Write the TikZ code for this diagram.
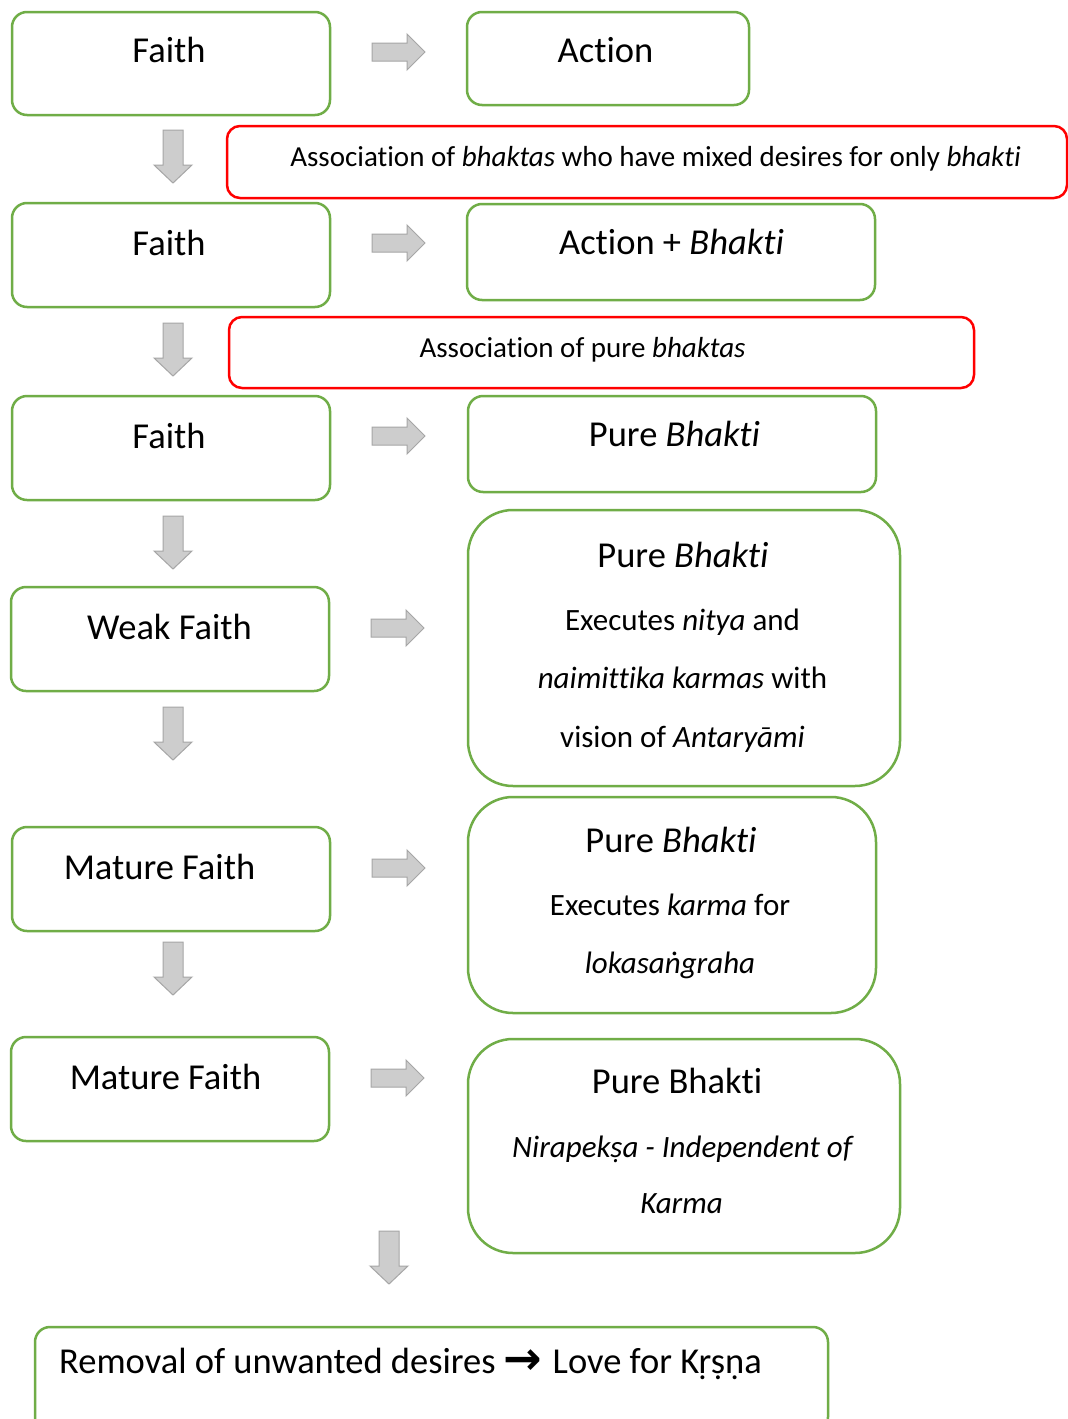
\documentclass[tikz,border=0pt]{standalone}
\usepackage{fontspec}
\setmainfont{Carlito}[Ligatures={NoCommon}]
\newfontfamily\djv{DejaVu Sans}
\definecolor{boxgreen}{HTML}{70AD47}
\definecolor{boxred}{HTML}{FF0000}
\definecolor{arrfill}{HTML}{CDCDCD}
\definecolor{arrline}{HTML}{A6A6A6}
\tikzset{
  gbox/.style={draw=boxgreen, line width=2.5pt, rounded corners=15pt, inner sep=0pt, fill=white},
  bigbox/.style={gbox, rounded corners=45pt},
  rbox/.style={draw=boxred, line width=2.5pt, rounded corners=13pt, inner sep=0pt, fill=white},
  big/.style={font=\fontsize{36.5}{44}\selectfont, anchor=base, inner sep=0pt},
  sub/.style={font=\fontsize{31}{37}\selectfont, anchor=base, inner sep=0pt},
  assoc/.style={font=\fontsize{29}{35}\selectfont, anchor=base, inner sep=0pt},
  blockarrow/.style={fill=arrfill, draw=arrline, line width=1pt, line join=miter},
}
\newcommand\rarrowat[2]{%
  \draw[blockarrow] (#1-26,#2-9) -- (#1+9,#2-9) -- (#1+9,#2-18) -- (#1+27,#2) -- (#1+9,#2+18) -- (#1+9,#2+9) -- (#1-26,#2+9) -- cycle;}
\newcommand\darrowat[2]{%
  \draw[blockarrow] (#1-10,#2) -- (#1+10,#2) -- (#1+10,#2+35) -- (#1+19,#2+35) -- (#1,#2+53) -- (#1-19,#2+35) -- (#1-10,#2+35) -- cycle;}
\begin{document}
\begin{tikzpicture}[x=1pt,y=-1pt]
\useasboundingbox (0,0) rectangle (1068,1419);
\fill[white] (0,0) rectangle (1068,1419);
% left boxes
\node[gbox, minimum width=318pt, minimum height=103pt] (L1) at (171,63.5) {};
\node[gbox, minimum width=318pt, minimum height=104pt] (L2) at (171,255) {};
\node[gbox, minimum width=318pt, minimum height=104pt] (L3) at (171,448) {};
\node[gbox, minimum width=318pt, minimum height=104pt] (L4) at (170,639) {};
\node[gbox, minimum width=318pt, minimum height=104pt] (L5) at (171,879) {};
\node[gbox, minimum width=318pt, minimum height=104pt] (L6) at (170,1089) {};
% right boxes
\node[gbox, minimum width=282pt, minimum height=93pt] (R1) at (608,58.5) {};
\node[gbox, minimum width=408pt, minimum height=96pt] (R2) at (671,252) {};
\node[gbox, minimum width=408pt, minimum height=96pt] (R3) at (672,444) {};
\node[bigbox, minimum width=432pt, minimum height=276pt] (R4) at (684,648) {};
\node[bigbox, minimum width=408pt, minimum height=216pt] (R5) at (672,905) {};
\node[bigbox, minimum width=432pt, minimum height=214pt] (R6) at (684,1146) {};
% red boxes
\node[rbox, minimum width=840pt, minimum height=72pt] (A1) at (647,162) {};
\node[rbox, minimum width=745pt, minimum height=71pt] (A2) at (601.5,352.5) {};
% bottom box
\node[gbox, minimum width=793pt, minimum height=105pt] (B) at (431.5,1379.5) {};
% texts
\node[big] (tL1) at (169,62) {Faith};
\node[big] (tL2) at (169,255) {Faith};
\node[big] (tL3) at (169,448) {Faith};
\node[big] (tL4) at (169.5,639) {Weak Faith};
\node[big] (tL5) at (159.5,879) {Mature Faith};
\node[big] (tL6) at (165.5,1089) {Mature Faith};
\node[big] (tR1) at (605.5,62) {Action};
\node[big] (tR2) at (671.5,254) {Action + \textit{Bhakti}};
\node[big] (tR3) at (674.5,446) {Pure \textit{Bhakti}};
\node[big] (tR4a) at (683,567) {Pure \textit{Bhakti}};
\node[sub] (tR4b) at (682.5,630) {Executes \textit{nitya} and};
\node[sub] (tR4c) at (682.5,688) {\textit{naimittika karmas} with};
\node[sub] (tR4d) at (682.5,747) {vision of \textit{Antaryāmi}};
\node[big] (tR5a) at (671,852) {Pure \textit{Bhakti}};
\node[sub] (tR5b) at (670,915) {Executes \textit{karma} for};
\node[sub] (tR5c) at (670,973) {\textit{lokasaṅgraha}};
\node[big] (tR6a) at (677,1093) {Pure Bhakti};
\node[sub] (tR6b) at (683,1157) {\textit{Nirapekṣa - Independent of}};
\node[sub] (tR6c) at (681.5,1213) {\textit{Karma}};
\node[assoc] (tA1) at (655.5,166.5) {Association of \textit{bhaktas} who have mixed desires for only \textit{bhakti}};
\node[assoc] (tA2) at (582.5,357.5) {Association of pure \textit{bhaktas}};
\node[big, anchor=base west] (tB) at (59,1373) {Removal of unwanted desires {\djv\bfseries\fontsize{46}{50}\selectfont\raisebox{-1pt}{→}}\kern2pt{} Love for Kṛṣṇa};
% block arrows
\rarrowat{398}{52}
\rarrowat{398}{243}
\rarrowat{398}{436}
\rarrowat{397}{628}
\rarrowat{398}{868}
\rarrowat{397}{1078}
\darrowat{173}{130}
\darrowat{173}{323}
\darrowat{173}{516}
\darrowat{173}{707}
\darrowat{173}{942}
\darrowat{389}{1231}
\end{tikzpicture}
\end{document}
